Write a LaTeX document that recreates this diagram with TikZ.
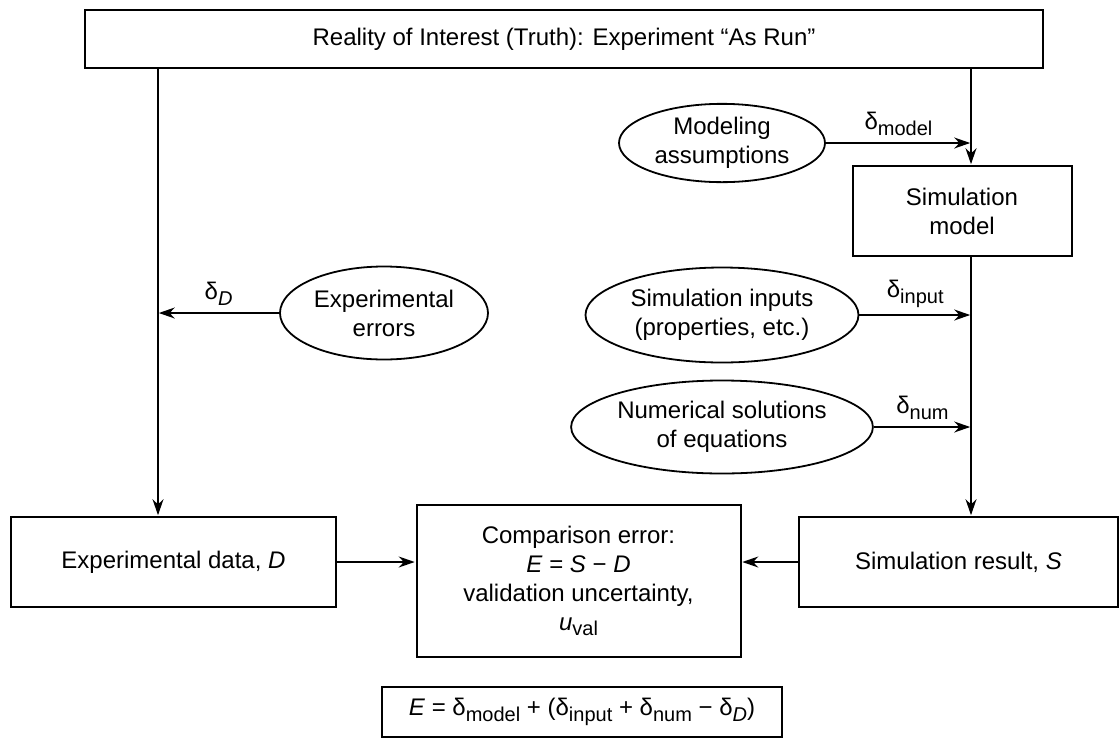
\documentclass[tikz,border=0pt]{standalone}
\usepackage{fontspec}
\setmainfont{Liberation Sans}
\usetikzlibrary{shapes.geometric, arrows.meta}
\newcommand{\dlt}[1]{δ\raisebox{-0.45ex}{\fontsize{10}{10}\selectfont #1}}
\newcommand{\uval}{\textit{u}\raisebox{-0.45ex}{\fontsize{10}{10}\selectfont val}}

\begin{document}
\begin{tikzpicture}[x=0.5pt, y=-0.5pt, >={Stealth[length=8pt, width=5.5pt]},
    font=\fontsize{12}{14.5}\selectfont,
    box/.style={draw, line width=1pt, align=center, inner sep=2pt},
    blob/.style={draw, ellipse, line width=0.9pt, align=center, inner sep=1pt},
    flow/.style={->, line width=0.8pt, shorten >=0.4pt}]
    \useasboundingbox (0,0) rectangle (1120,745);
    % Realität
    \node[box, minimum width=479pt, minimum height=29pt] (truth) at (564,39) {Reality of Interest (Truth): Experiment “As Run”};
    \coordinate (lft) at (158,0);
    \coordinate (rgt) at (971,0);
    % Fehlerquellen
    \node[blob, minimum width=103pt, minimum height=39pt] (assump) at (722,143) {Modeling\\assumptions};
    \node[blob, minimum width=136.5pt, minimum height=47.5pt] (siminp) at (722,315) {Simulation inputs\\(properties, etc.)};
    \node[blob, minimum width=135.5pt, minimum height=46.5pt] (numsol) at (722,427) {Numerical solutions\\of equations};
    \node[blob, minimum width=104pt, minimum height=46.5pt] (experr) at (384,313) {Experimental\\errors};
    % Kästen
    \node[box, minimum width=109.5pt, minimum height=45pt] (simmod) at (962,211) {Simulation\\model};
    \node[box, minimum width=162.5pt, minimum height=45pt] (expdata) at (173.5,562) {Experimental data, \textit{D}};
    \node[box, minimum width=159.5pt, minimum height=45pt] (simres) at (958.5,562) {Simulation result, \textit{S}};
    \node[box, minimum width=162pt, minimum height=76pt] (compare) at (578.5,581) {Comparison error:\\\textit{E} = \textit{S} − \textit{D}\\validation uncertainty,\\\uval};
    \node[box, minimum width=200pt, minimum height=25pt] (formula) at (582,712) {\textit{E} = \dlt{model} + (\dlt{input} + \dlt{num} − \dlt{\textit{D}})};
    % Pfeile
    \draw[flow] (truth.south -| lft) -- (expdata.north -| lft);
    \draw[flow] (truth.south -| rgt) -- (simmod.north -| rgt);
    \draw[flow] (simmod.south -| rgt) -- (simres.north -| rgt);
    \draw[flow] (assump.east) -- (assump.east -| rgt) node[midway, above] {\dlt{model}};
    \draw[flow] (siminp.east) -- (siminp.east -| rgt) node[midway, above] {\dlt{input}};
    \draw[flow] (numsol.east) -- (numsol.east -| rgt) node[midway, above] {\dlt{num}};
    \draw[flow] (experr.west) -- (experr.west -| lft) node[midway, above] {\dlt{\textit{D}}};
    \draw[flow] (expdata.east) -- (compare.west |- expdata.east);
    \draw[flow] (simres.west) -- (compare.east |- simres.west);
\end{tikzpicture}
\end{document}
